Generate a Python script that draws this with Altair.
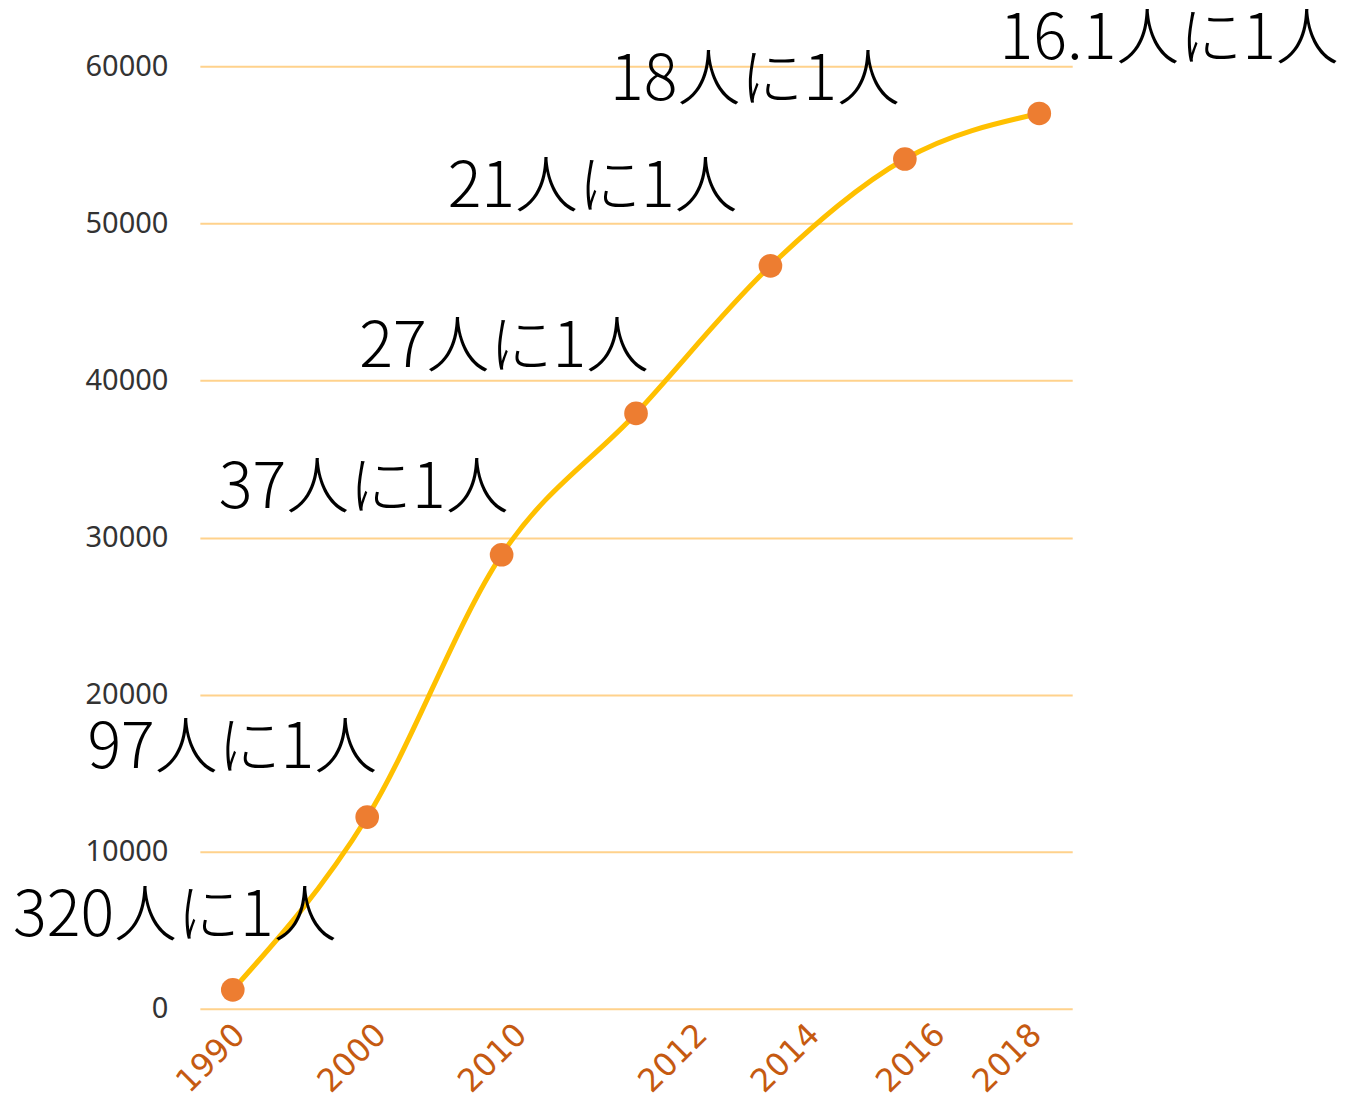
import altair as alt
import pandas as pd

# ---- data ----
years = ["1990", "2000", "2010", "2012", "2014", "2016", "2018"]
values = [1200, 12200, 28900, 37900, 47300, 54100, 57000]
ratio_labels = ["320人に1人", "97人に1人", "37人に1人", "27人に1人",
                "21人に1人", "18人に1人", "16.1人に1人"]
y_ticks = [0, 10000, 20000, 30000, 40000, 50000, 60000]

# ---- layout (pixel offsets of annotations relative to their points) ----
label_dx = [-58, -135, -138, -132, -178, -150, 130]
label_dy = [-73, -68, -66, -65, -78, -78, -74]
tick_shift = [7, 14, 20, 66, 44, 35, -3]

W, H = 873, 943
df = pd.DataFrame({"year": years, "value": values, "label": ratio_labels})

xenc = alt.X("year:O", sort=years,
             scale=alt.Scale(type="point", padding=0.245), axis=None)
yenc = alt.Y("value:Q",
             scale=alt.Scale(domain=[0, 60000], nice=False, zero=True),
             axis=alt.Axis(values=y_ticks, grid=True, gridColor="#FFD28C",
                           gridWidth=2, ticks=False, domain=False,
                           labelFontSize=29, labelColor="#333333",
                           labelFont="Noto Sans", labelPadding=32,
                           format="d", title=None))

base = alt.Chart(df)

line = base.mark_line(interpolate="monotone", color="#FFC000",
                      strokeWidth=5).encode(x=xenc, y=yenc)
pts = base.mark_circle(size=560, color="#ED7D31", opacity=1).encode(x=xenc, y=yenc)

layers = [line, pts]

for i, yr in enumerate(years):
    row = pd.DataFrame({"year": [yr], "value": [values[i]], "label": [ratio_labels[i]]})
    layers.append(
        alt.Chart(row).mark_text(fontSize=63, font="Noto Sans CJK JP",
                                 fontWeight=300, color="#000000",
                                 align="center", baseline="middle",
                                 dx=label_dx[i], dy=label_dy[i]).encode(
            x=xenc, y=alt.Y("value:Q"), text="label:N")
    )
    s = tick_shift[i] * 0.7071
    layers.append(
        alt.Chart(row).mark_text(fontSize=32, font="DejaVu Sans",
                                 color="#C55A11", angle=315,
                                 align="right", baseline="middle",
                                 dx=s, dy=s).encode(
            x=xenc, y=alt.value(H + 21), text="year:N")
    )

chart = alt.layer(*layers).properties(
    width=W, height=H,
    autosize=alt.AutoSizeParams(type="none"),
    padding={"left": 192, "top": 58, "right": 270, "bottom": 92},
).configure_view(stroke=None)

chart.save("out.html", embed_options={"renderer": "svg", "actions": False})
